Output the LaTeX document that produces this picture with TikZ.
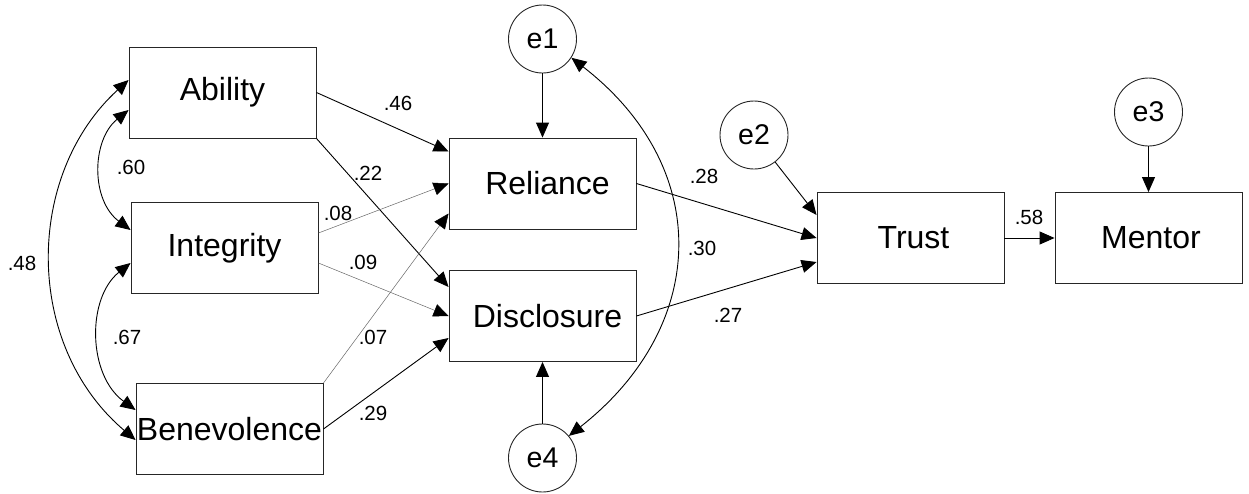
\documentclass[tikz,border=0pt]{standalone}
\usepackage{fontspec}
\setmainfont{Liberation Sans}
\usetikzlibrary{arrows.meta}
\begin{document}
\begin{tikzpicture}[x=1pt,y=-1pt,
  box/.style={draw=black!85, line width=0.9pt, minimum width=187pt, minimum height=91pt, inner sep=0pt, font=\fontsize{32}{36}\selectfont},
  err/.style={draw=black!85, line width=0.9pt, circle, minimum size=68pt, inner sep=0pt, font=\fontsize{28.5}{32}\selectfont},
  arr/.style={line width=0.9pt, -{Triangle[length=15pt,width=13pt]}},
  weak/.style={line width=0.5pt, draw=black!60, -{Triangle[length=15pt,width=13pt,color=black]}},
  dbl/.style={line width=0.9pt, {Triangle[length=15pt,width=13pt]}-{Triangle[length=15pt,width=13pt]}},
  coef/.style={font=\fontsize{20.5}{23}\selectfont, inner sep=0pt}]
\useasboundingbox (0,0) rectangle (1249,493);

% boxes
\node[box] (ability) at (222.5,92.5) {Ability};
\node[box] (integ) at (224.5,248) {Integrity};
\node[box] (benev) at (229.5,429) {Benevolence};
\node[box] (reliance) at (542.5,183.5) {\hspace*{10pt}Reliance};
\node[box] (disclosure) at (542.5,316) {\hspace*{10pt}Disclosure};
\node[box] (trust) at (910.5,238) {\hspace*{6pt}Trust};
\node[box] (mentor) at (1148.5,238) {\hspace*{5pt}Mentor};

% error terms
\node[err] (e1) at (542.5,39) {e1};
\node[err] (e2) at (754,135) {e2};
\node[err] (e3) at (1148.5,112) {e3};
\node[err] (e4) at (542.5,458) {e4};

% covariances
\draw[dbl] ([yshift=-17.5pt]ability.west) .. controls +(-37,30) and +(-40,-30) .. ([yshift=18pt]integ.west);
\draw[dbl] ([yshift=-15pt]integ.west) .. controls +(-44,35) and +(-48,-35) .. ([yshift=19pt]benev.west);
\draw[dbl] ([yshift=12.5pt]ability.west) .. controls +(-104,95) and +(-112,-95) .. ([yshift=-11pt]benev.west);
\draw[dbl] (e1.-33) .. controls +(142,110) and +(140,-110) .. (e4.40);

% paths
\draw[arr] (ability.east) -- ([yshift=32pt]reliance.west);
\draw[arr] (ability.south east) -- ([yshift=29pt]disclosure.west);
\draw[weak] ([yshift=15pt]integ.east) -- (reliance.west);
\draw[weak] ([yshift=-15pt]integ.east) -- (disclosure.west);
\draw[weak] (benev.north east) -- ([yshift=-30pt]reliance.west);
\draw[arr] (benev.east) -- ([yshift=-22pt]disclosure.west);
\draw[arr] (e1) -- (reliance.north);
\draw[arr] (e4) -- (disclosure.south);
\draw[arr] (e2) -- ([yshift=23pt]trust.west);
\draw[arr] (reliance.east) -- (trust.west);
\draw[arr] (disclosure.east) -- ([yshift=-24pt]trust.west);
\draw[arr] (trust.east) -- (mentor.west);
\draw[arr] (e3) -- (mentor.north);

% coefficients
\node[coef] (c46) at (398,103) {.46};
\node[coef] (c22) at (368,173) {.22};
\node[coef] (c08) at (338,213) {.08};
\node[coef] (c09) at (363,262) {.09};
\node[coef] (c07) at (373,337) {.07};
\node[coef] (c29) at (373,413) {.29};
\node[coef] (c28) at (704,176) {.28};
\node[coef] (c30) at (702,248) {.30};
\node[coef] (c27) at (728,315) {.27};
\node[coef] (c58) at (1029,217) {.58};
\node[coef] (c60) at (131,167) {.60};
\node[coef] (c67) at (127,337) {.67};
\node[coef] (c48) at (22,263) {.48};
\end{tikzpicture}
\end{document}
